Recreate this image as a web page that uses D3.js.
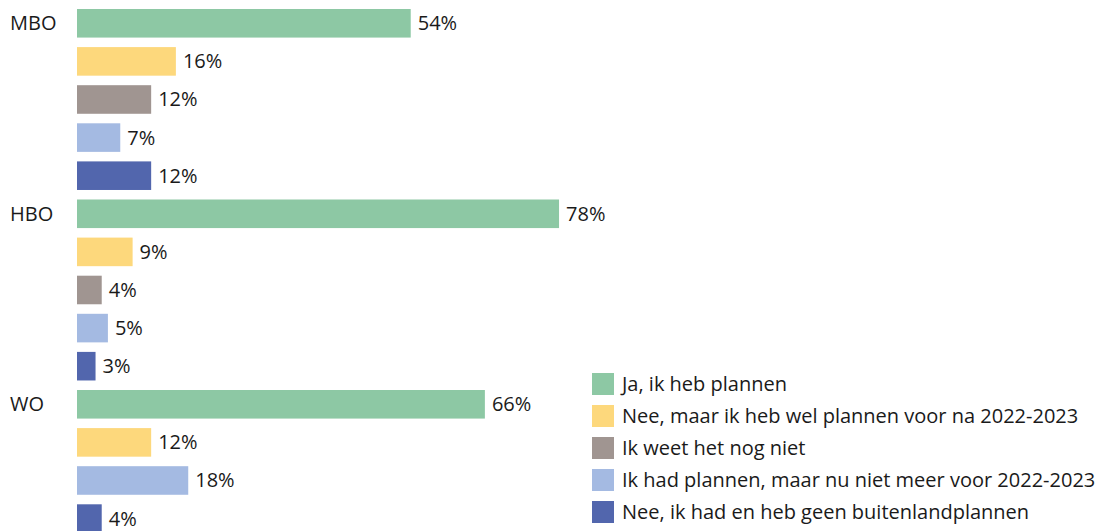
<!DOCTYPE html>
<html>
<head>
<meta charset="utf-8">
<script src="https://cdn.jsdelivr.net/npm/d3@7"></script>
<style>
  body { margin: 0; background: #fff; }
  svg text { font-family: "Open Sans", sans-serif; fill: #1a1a1a; }
</style>
</head>
<body>
<div id="chart"></div>
<script>
const categories = ["MBO", "HBO", "WO"];
const answers = [
  "Ja, ik heb plannen",
  "Nee, maar ik heb wel plannen voor na 2022-2023",
  "Ik weet het nog niet",
  "Ik had plannen, maar nu niet meer voor 2022-2023",
  "Nee, ik had en heb geen buitenlandplannen",
];
const colors = ["#8DC8A4", "#FDD87C", "#A09591", "#A4BAE2", "#5266AD"];
// null = not shown for that group
const mboValues = [54, 16, 12, 7, 12];
const hboValues = [78, 9, 4, 5, 3];
const woValues = [66, 12, null, 18, 4];

const width = 1106, height = 531;

const rows = [];
[mboValues, hboValues, woValues].forEach((vals, ci) => {
  vals.forEach((v, ai) => {
    if (v != null) rows.push({ cat: categories[ci], answer: ai, value: v, id: ci + "-" + ai, first: ai === 0 });
  });
});

const svg = d3.select("#chart").append("svg")
  .attr("width", width)
  .attr("height", height);

const x = d3.scaleLinear().domain([0, 100]).range([77, 77 + 618]);
const step = 38.1;
const y = d3.scaleBand()
  .domain(rows.map(d => d.id))
  .range([9, 9 + step * (rows.length - 0.25)])
  .paddingInner(0.25)
  .paddingOuter(0);

svg.selectAll("rect.bar")
  .data(rows)
  .enter()
  .append("rect")
  .attr("class", "bar")
  .attr("x", x(0))
  .attr("y", d => y(d.id))
  .attr("width", d => x(d.value) - x(0))
  .attr("height", y.bandwidth())
  .style("fill", d => colors[d.answer]);

svg.selectAll("text.val")
  .data(rows)
  .enter()
  .append("text")
  .attr("class", "val")
  .attr("x", d => x(d.value) + 7)
  .attr("y", d => y(d.id) + y.bandwidth() / 2)
  .attr("dy", "0.35em")
  .style("font-size", "20px")
  .text(d => d.value + "%");

svg.selectAll("text.cat")
  .data(rows.filter(d => d.first))
  .enter()
  .append("text")
  .attr("class", "cat")
  .attr("x", 10)
  .attr("y", d => y(d.id) + y.bandwidth() / 2)
  .attr("dy", "0.35em")
  .style("font-size", "20px")
  .text(d => d.cat);

// Legend
const legend = svg.append("g").attr("transform", "translate(592,373)");
const lg = legend.selectAll("g")
  .data(answers)
  .enter()
  .append("g")
  .attr("transform", (d, i) => `translate(0,${i * 32})`);

lg.append("rect")
  .attr("width", 22)
  .attr("height", 22)
  .style("fill", (d, i) => colors[i]);

lg.append("text")
  .attr("x", 30)
  .attr("y", 11)
  .attr("dy", "0.35em")
  .style("font-size", "20px")
  .text(d => d);
</script>
</body>
</html>
